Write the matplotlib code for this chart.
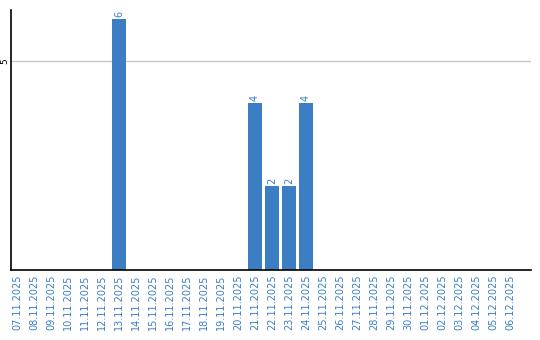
import matplotlib

matplotlib.use("Agg")
import matplotlib.pyplot as plt

# daily counts, 07.11.2025 - 06.12.2025
dates = [
    "07.11.2025", "08.11.2025", "09.11.2025", "10.11.2025", "11.11.2025",
    "12.11.2025", "13.11.2025", "14.11.2025", "15.11.2025", "16.11.2025",
    "17.11.2025", "18.11.2025", "19.11.2025", "20.11.2025", "21.11.2025",
    "22.11.2025", "23.11.2025", "24.11.2025", "25.11.2025", "26.11.2025",
    "27.11.2025", "28.11.2025", "29.11.2025", "30.11.2025", "01.12.2025",
    "02.12.2025", "03.12.2025", "04.12.2025", "05.12.2025", "06.12.2025",
]
counts = [0, 0, 0, 0, 0, 0, 6, 0, 0, 0, 0, 0, 0, 0, 4,
          2, 2, 4, 0, 0, 0, 0, 0, 0, 0, 0, 0, 0, 0, 0]
yticks = [5]

BLUE = "#3b7ec3"

fig = plt.figure(figsize=(5.4, 3.4), dpi=100)
ax = fig.add_axes([11 / 540, 1 - 270 / 340, 520 / 540, 260 / 340])

x = range(len(dates))
ax.bar(x, counts, width=0.82, color=BLUE, zorder=2)
for i, v in zip(x, counts):
    if v:
        ax.text(i, v + 0.05, str(v), rotation=90, ha="center", va="bottom",
                color=BLUE, fontsize=7)

ax.set_xlim(-0.35, 30.24)
ax.set_ylim(0, 6.22)
ax.set_yticks(yticks)
ax.set_yticklabels([str(t) for t in yticks], rotation=90, va="center",
                   fontsize=6.5)
ax.yaxis.grid(True, color="#c8c8c8", lw=1, zorder=0)
ax.set_xticks(list(x))
ax.set_xticklabels(dates, rotation=90, fontsize=7, color=BLUE)
ax.tick_params(axis="x", length=0, pad=3)
ax.tick_params(axis="y", length=0, pad=1)
for side in ("top", "right"):
    ax.spines[side].set_visible(False)
for side in ("left", "bottom"):
    ax.spines[side].set_linewidth(1.2)

fig.savefig("out.png", dpi=100)
